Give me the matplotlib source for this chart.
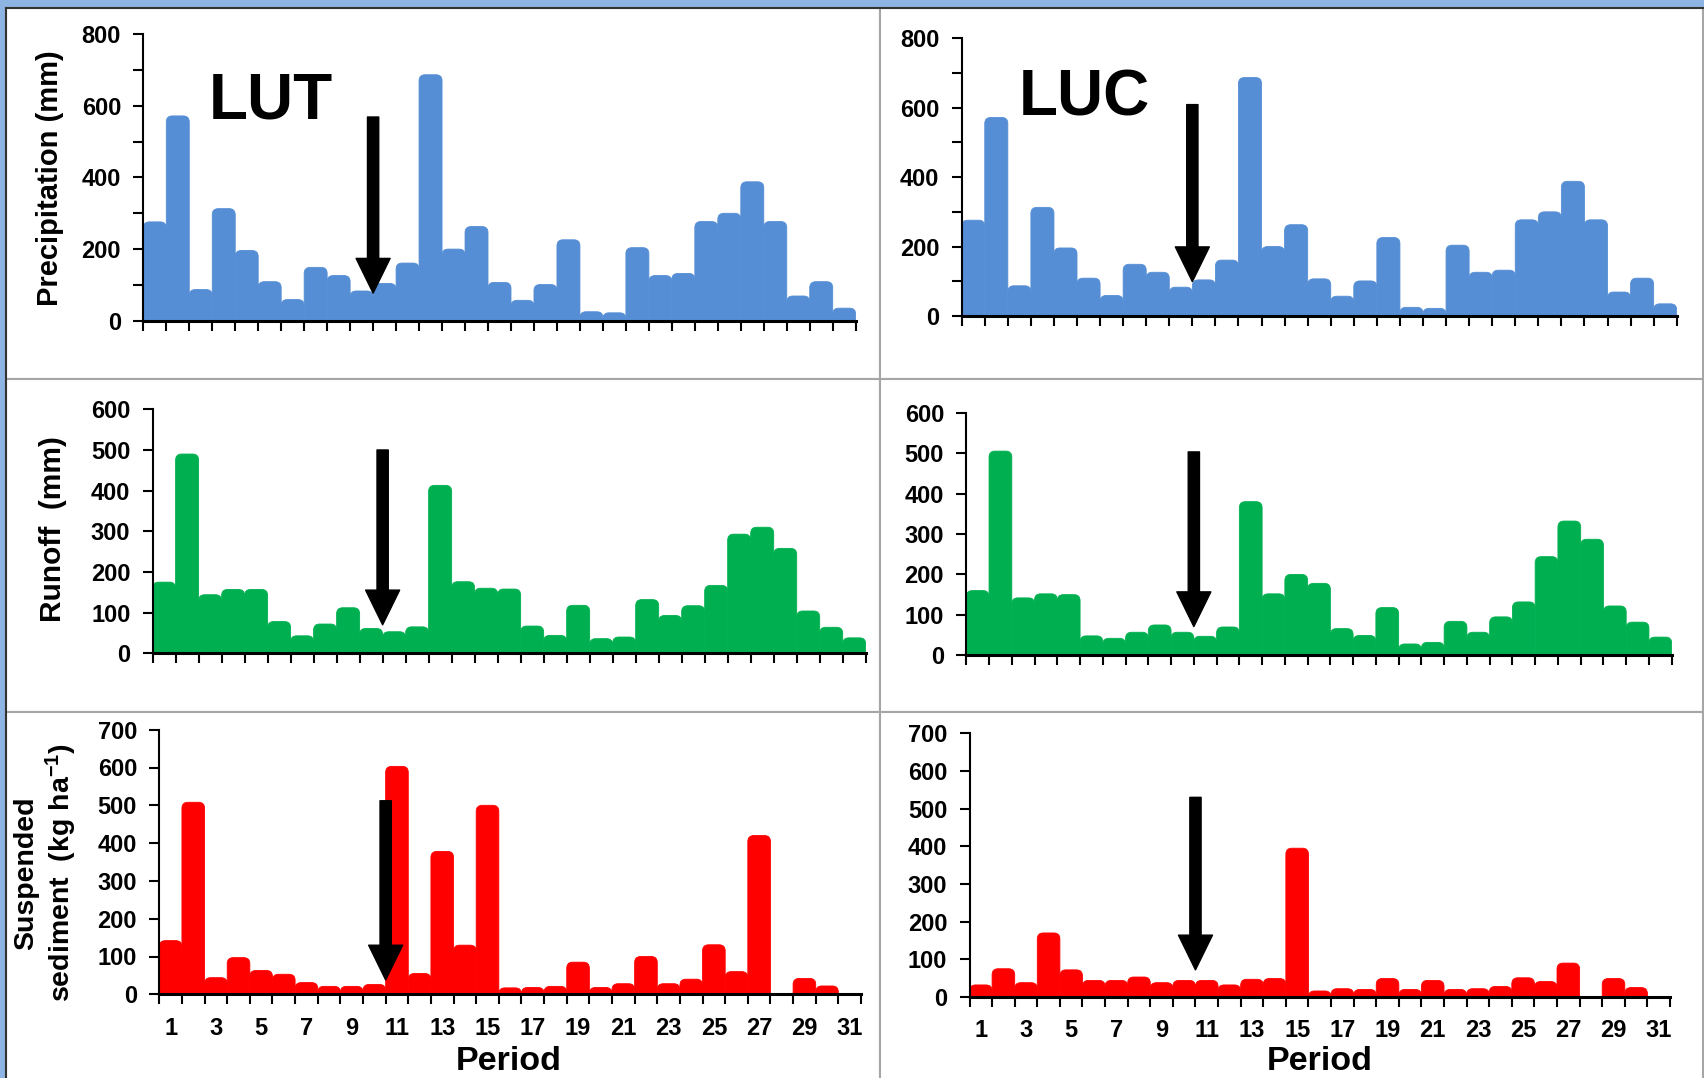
import numpy as np
import matplotlib
matplotlib.use('Agg')
import matplotlib.pyplot as plt
from matplotlib.patches import FancyBboxPatch, Rectangle
from matplotlib.lines import Line2D

# ---- data ----
periods = np.arange(1, 32)
precip = [276, 572, 87, 313, 196, 109, 59, 149, 126, 83, 104, 161, 687, 200, 263, 107, 57, 101, 226, 25, 22, 204, 126, 132, 277, 300, 388, 277, 69, 109, 35]
runoff_lut = [175, 490, 144, 157, 157, 78, 43, 72, 112, 61, 53, 65, 413, 176, 160, 158, 67, 44, 118, 36, 40, 132, 93, 117, 167, 293, 310, 258, 104, 64, 38]
runoff_luc = [160, 505, 142, 152, 150, 48, 42, 57, 75, 57, 47, 70, 380, 152, 200, 178, 66, 49, 118, 28, 32, 84, 57, 95, 132, 244, 332, 287, 122, 82, 45]
sed_lut = [142, 508, 44, 97, 63, 53, 31, 21, 21, 26, 603, 55, 378, 130, 500, 17, 18, 21, 85, 18, 28, 100, 28, 40, 131, 60, 420, 0, 42, 22, 0]
sed_luc = [32, 75, 38, 170, 72, 44, 44, 53, 38, 44, 44, 32, 47, 49, 395, 16, 22, 20, 49, 20, 44, 20, 22, 28, 51, 41, 90, 0, 49, 25, 0]

# arrows: (start, tip) in data units, all at the same period position
arrow_x = 10.5
arrows = {
    'precip_lut': (569, 77), 'precip_luc': (609, 99),
    'runoff_lut': (500, 70), 'runoff_luc': (503, 71),
    'sed_lut': (512, 38), 'sed_luc': (530, 72),
}

BLUE = '#558ED5'
GREEN = '#00B050'
RED = '#FF0000'

plt.rcParams['font.family'] = ['Liberation Sans', 'DejaVu Sans']
plt.rcParams['font.weight'] = 'bold'
plt.rcParams['mathtext.fontset'] = 'custom'
plt.rcParams['mathtext.rm'] = 'Liberation Sans:bold'
plt.rcParams['mathtext.bf'] = 'Liberation Sans:bold'
plt.rcParams['mathtext.default'] = 'rm'

W, H = 1704, 1078
fig = plt.figure(figsize=(W / 100, H / 100), dpi=100)
fig.patch.set_facecolor('#8DB4E2')


def fx(px):
    return px / W


def fy(py):
    return 1 - py / H


# white panels
for (x0, y0, x1, y1) in [(6, 8, 880, 379), (880, 8, 1703, 379),
                         (6, 379, 880, 712), (880, 379, 1703, 712),
                         (6, 712, 880, 1080), (880, 712, 1703, 1080)]:
    fig.add_artist(Rectangle((fx(x0), fy(y1)), fx(x1 - x0), (y1 - y0) / H,
                             transform=fig.transFigure, facecolor='white',
                             edgecolor='#A6A6A6', lw=1.5, zorder=0))
fig.add_artist(Line2D([fx(6), fx(1704)], [fy(7.5), fy(7.5)], color='#333333', lw=1.5,
                      transform=fig.transFigure))
fig.add_artist(Line2D([fx(6), fx(6)], [fy(7.5), fy(1078)], color='#333333', lw=1.5,
                      transform=fig.transFigure))


def round_bars(ax, bars, ymax, r_px=6):
    # swap the plain rectangles for ones with rounded tops (bottom corners are clipped)
    bb = ax.get_position()
    sx = bb.width * W / 31.0
    sy = bb.height * H / ymax
    aspect = sx / sy
    r = r_px / sx
    for b in bars:
        h = b.get_height()
        if h <= 0:
            b.remove()
            continue
        rr = min(r, h * sy / sx / 2 + r / 2)
        p = FancyBboxPatch((b.get_x(), -rr * aspect), b.get_width(), h + rr * aspect,
                           boxstyle='round,pad=0,rounding_size=%f' % rr,
                           mutation_aspect=aspect, fc=b.get_facecolor(),
                           ec=b.get_facecolor(), lw=0.6, zorder=1)
        ax.add_patch(p)
        b.remove()


def make_panel(rect, values, color, ymax, ystep, minor, arrow, bottom=False):
    l, t, r, b = rect
    ax = fig.add_axes([fx(l), fy(b), fx(r - l), (b - t) / H])
    ax.set_facecolor('none')
    bars = ax.bar(periods, values, width=1.0, color=color, linewidth=0)
    ax.set_xlim(0.5, 31.5)
    ax.set_ylim(0, ymax)
    round_bars(ax, bars, ymax)
    for s in ['top', 'right']:
        ax.spines[s].set_visible(False)
    ax.spines['left'].set_linewidth(1.5)
    ax.spines['bottom'].set_linewidth(2.2)
    ax.set_yticks(np.arange(0, ymax + 1, ystep))
    if minor:
        ax.set_yticks(np.arange(0, ymax + 1, minor), minor=True)
    ax.set_xticks(np.arange(0.5, 32, 1.0))
    ax.set_xticklabels([])
    ax.tick_params(axis='both', which='both', direction='out', length=7, width=1.5,
                   labelsize=17, pad=9)
    if bottom:
        ax.set_xticks(np.arange(1, 32, 2), minor=True)
        ax.set_xticklabels([str(p) for p in range(1, 32, 2)], minor=True)
        ax.tick_params(axis='x', which='minor', length=0, pad=16, labelsize=17)
    else:
        ax.tick_params(axis='x', which='minor', bottom=False)
    y0, y1 = arrow
    ax.annotate('', xy=(arrow_x, y1), xytext=(arrow_x, y0),
                arrowprops=dict(width=8.1, headwidth=24.5, headlength=25, color='black'),
                zorder=5)
    return ax


make_panel((143.3, 34.3, 855.7, 320.7), precip, BLUE, 800, 200, 100, arrows['precip_lut'])
make_panel((961.7, 38.3, 1676.7, 316), precip, BLUE, 800, 200, 100, arrows['precip_luc'])
make_panel((152.6, 409.3, 865.7, 653.3), runoff_lut, GREEN, 600, 100, None, arrows['runoff_lut'])
make_panel((966.3, 412.7, 1671.7, 655.3), runoff_luc, GREEN, 600, 100, None, arrows['runoff_luc'])
make_panel((159.3, 729.7, 861, 994.3), sed_lut, RED, 700, 100, None, arrows['sed_lut'], bottom=True)
make_panel((969.5, 733.3, 1670, 997), sed_luc, RED, 700, 100, None, arrows['sed_luc'], bottom=True)

# labels
fig.text(fx(50.5), fy(178.5), 'Precipitation (mm)', rotation=90, ha='center', va='center',
         fontsize=21, fontweight='bold')
fig.text(fx(53), fy(529), 'Runoff  (mm)', rotation=90, ha='center', va='center',
         fontsize=21.5, fontweight='bold')
fig.text(fx(46), fy(873), 'Suspended\nsediment  (kg ha$^{-1}$)', rotation=90, ha='center',
         va='center', multialignment='center', fontsize=20.5, fontweight='bold')
fig.text(fx(509), fy(1070), 'Period', ha='center', va='baseline', fontsize=24.5, fontweight='bold')
fig.text(fx(1320), fy(1070), 'Period', ha='center', va='baseline', fontsize=24.5, fontweight='bold')
fig.text(fx(270.7), fy(118.3), 'LUT', ha='center', va='baseline', fontsize=46, fontweight='bold')
fig.text(fx(1084.2), fy(115), 'LUC', ha='center', va='baseline', fontsize=46, fontweight='bold')

fig.savefig('out.png', dpi=100, facecolor=fig.get_facecolor())
